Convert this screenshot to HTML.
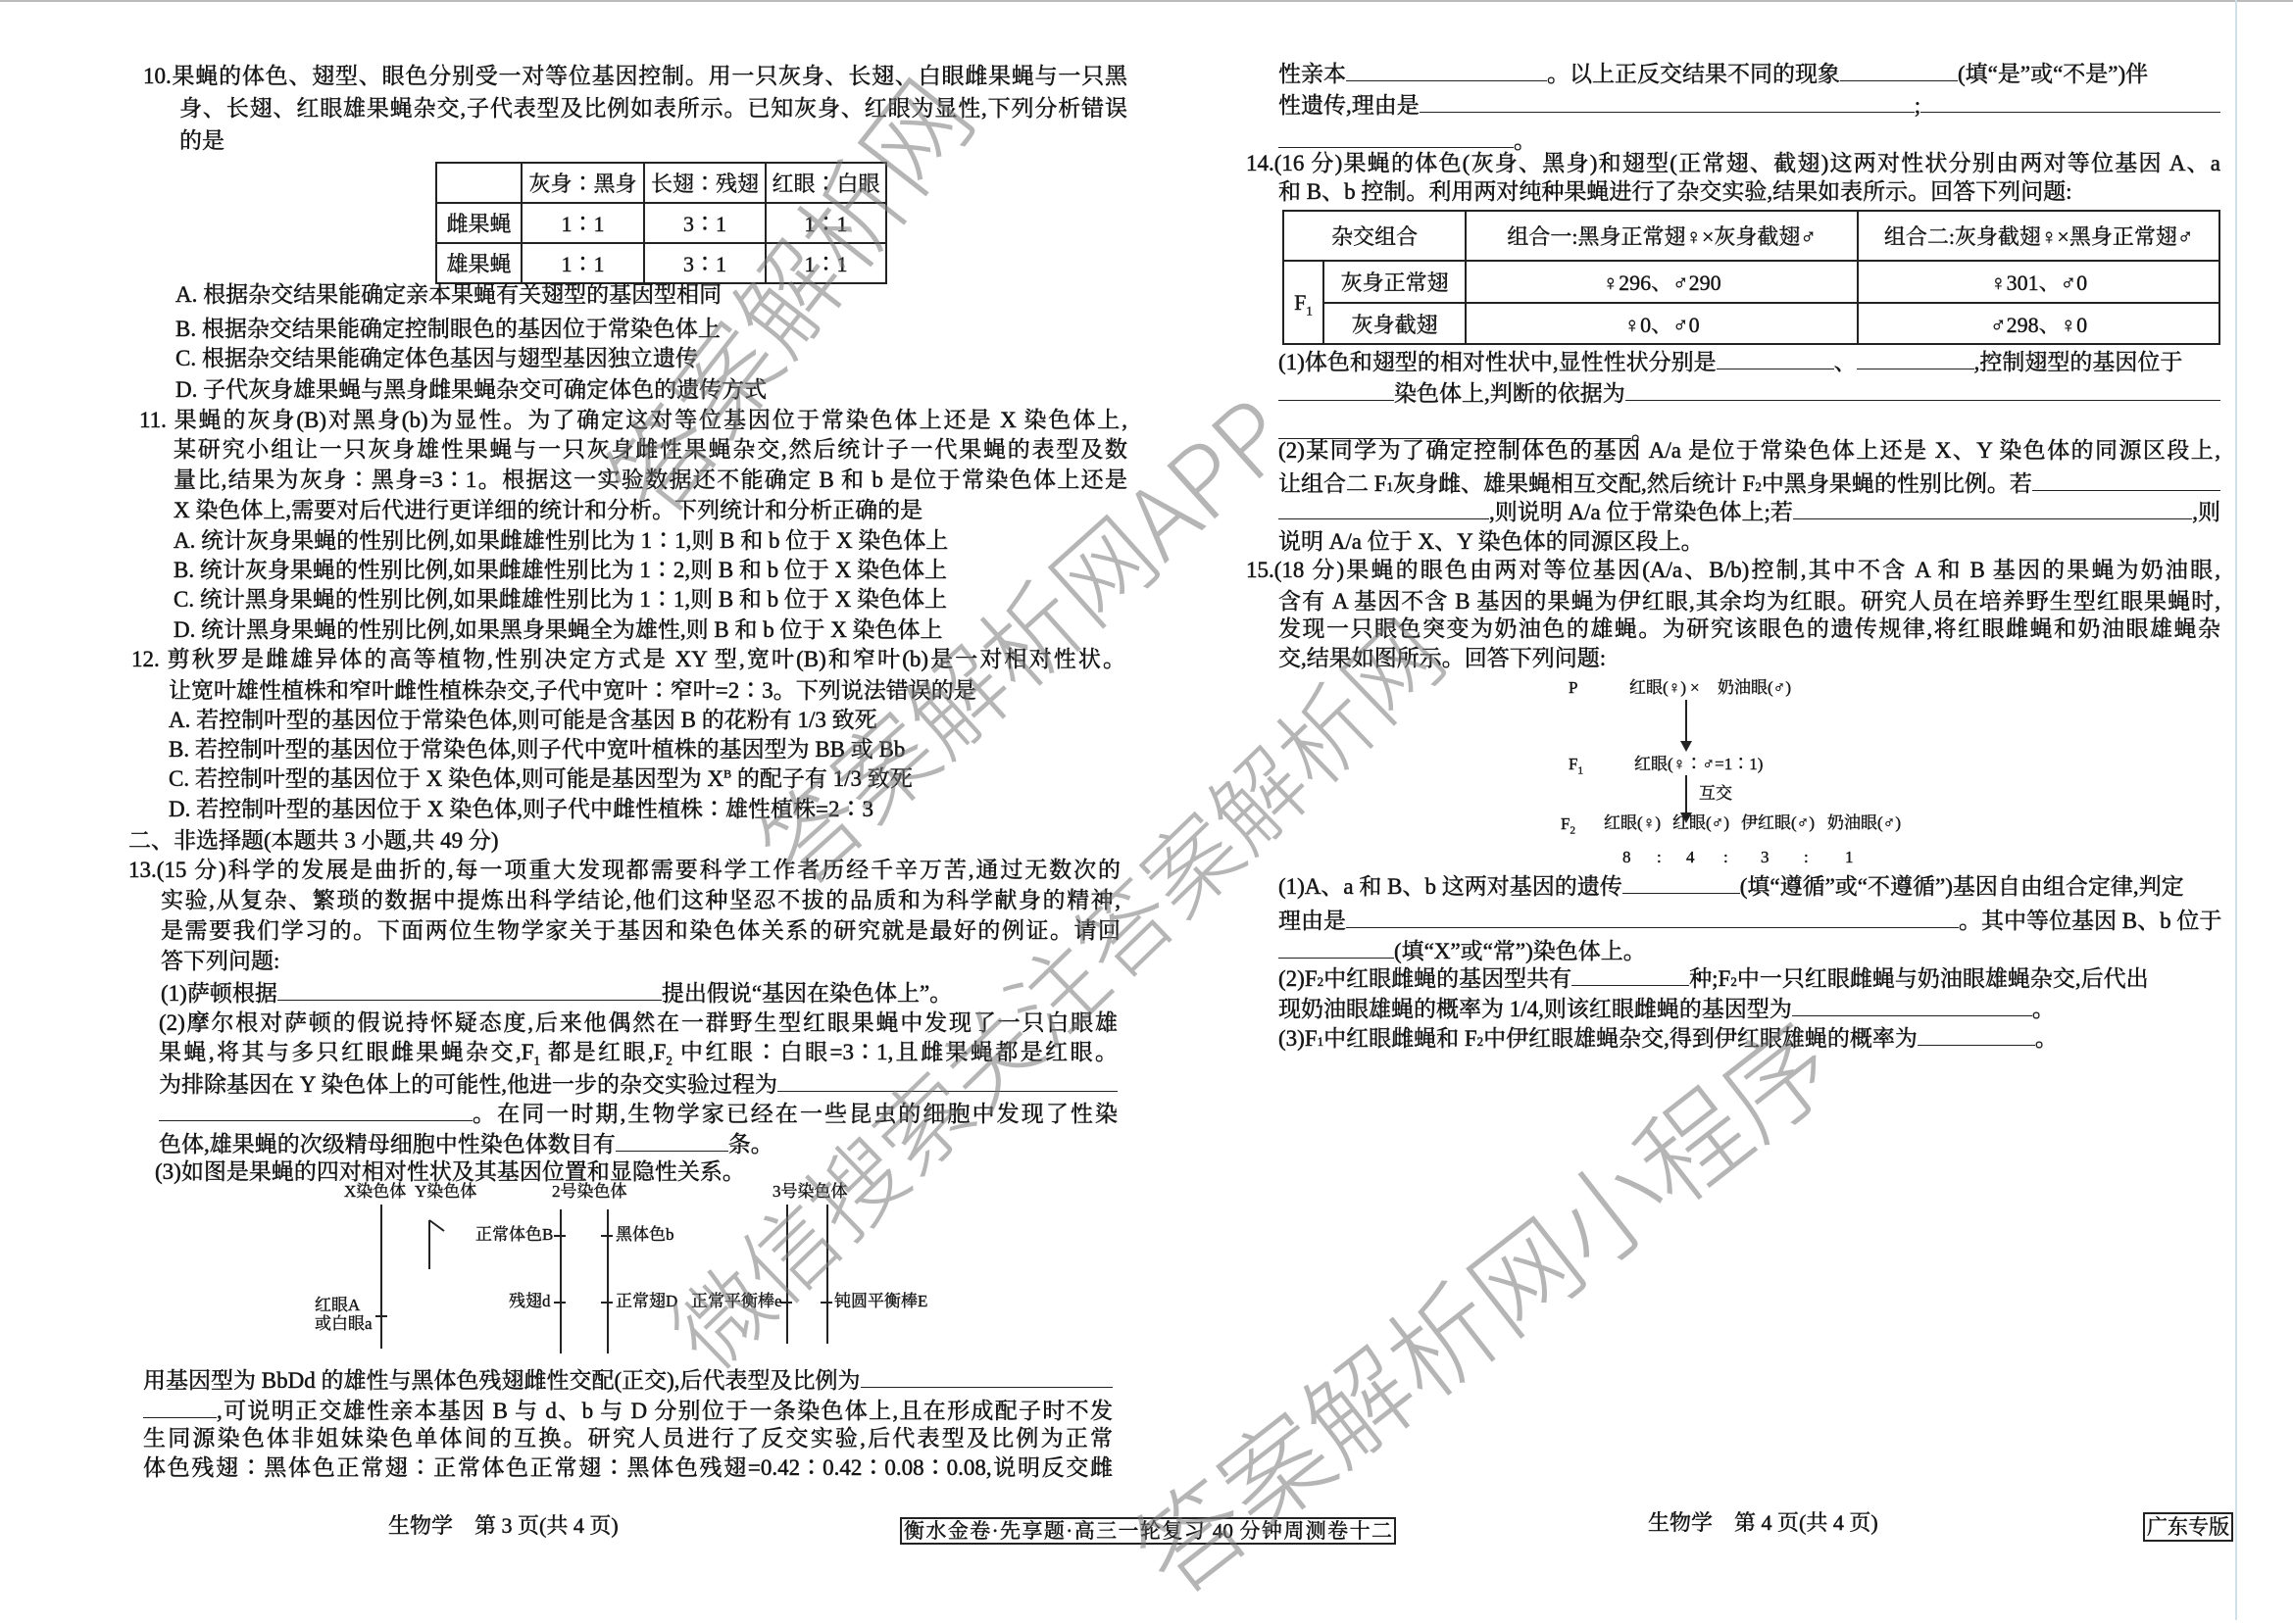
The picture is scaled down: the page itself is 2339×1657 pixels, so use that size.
<!DOCTYPE html>
<html><head><meta charset="utf-8">
<style>
html,body{margin:0;padding:0;background:#fff;}
body{width:2339px;height:1653px;position:relative;overflow:hidden;font-family:"Liberation Serif","Noto Serif CJK SC",serif;color:#161616;}
sup,sub{line-height:0;}
.l{position:absolute;height:32px;line-height:32px;font-size:23px;white-space:nowrap;-webkit-text-stroke:0.5px #161616;}
.j{text-align:justify;text-align-last:justify;white-space:normal;overflow:hidden;}
.f{display:flex;align-items:baseline;}
.b{display:inline-block;flex:none;height:24px;border-bottom:1.6px solid #222;vertical-align:baseline;}
.g{flex:1;display:inline-block;height:24px;border-bottom:1.6px solid #222;}
.s{font-size:17px;position:absolute;white-space:nowrap;line-height:20px;-webkit-text-stroke:0.4px #161616;}
.v{position:absolute;background:#222;width:2px;}
.h{position:absolute;background:#222;height:2px;}
table{position:absolute;border-collapse:collapse;font-size:22px;-webkit-text-stroke:0.4px #161616;}
td{border:2px solid #222;text-align:center;padding:0;}
.wm{position:absolute;font-family:"Noto Sans CJK SC","WenQuanYi Zen Hei",sans-serif;font-weight:300;color:rgba(120,120,120,0.55);white-space:nowrap;transform:translate(-50%,-50%);}
</style></head><body>
<div style="position:absolute;left:0;top:0;width:2339px;height:2px;background:#bbb"></div>
<div style="position:absolute;left:2280px;top:0;width:2px;height:1653px;background:#cfe0e6"></div>

<!-- LEFT COLUMN -->
<div class="l j" style="left:146px;top:62px;width:1004px">10.果蝇的体色、翅型、眼色分别受一对等位基因控制。用一只灰身、长翅、白眼雌果蝇与一只黑</div>
<div class="l j" style="left:183px;top:95px;width:967px">身、长翅、红眼雄果蝇杂交,子代表型及比例如表所示。已知灰身、红眼为显性,下列分析错误</div>
<div class="l" style="left:183px;top:128px">的是</div>
<table style="left:444px;top:165px;width:461px;height:123px">
<tr style="height:41px"><td style="width:85px"></td><td style="width:123px">灰身∶黑身</td><td style="width:122px">长翅∶残翅</td><td>红眼∶白眼</td></tr>
<tr style="height:41px"><td>雌果蝇</td><td>1∶1</td><td>3∶1</td><td>1∶1</td></tr>
<tr style="height:41px"><td>雄果蝇</td><td>1∶1</td><td>3∶1</td><td>1∶1</td></tr>
</table>
<div class="l" style="left:179px;top:285px">A. 根据杂交结果能确定亲本果蝇有关翅型的基因型相同</div>
<div class="l" style="left:179px;top:320px">B. 根据杂交结果能确定控制眼色的基因位于常染色体上</div>
<div class="l" style="left:179px;top:350px">C. 根据杂交结果能确定体色基因与翅型基因独立遗传</div>
<div class="l" style="left:179px;top:382px">D. 子代灰身雄果蝇与黑身雌果蝇杂交可确定体色的遗传方式</div>
<div class="l j" style="left:142px;top:413px;width:1008px">11. 果蝇的灰身(B)对黑身(b)为显性。为了确定这对等位基因位于常染色体上还是 X 染色体上,</div>
<div class="l j" style="left:177px;top:443px;width:973px">某研究小组让一只灰身雄性果蝇与一只灰身雌性果蝇杂交,然后统计子一代果蝇的表型及数</div>
<div class="l j" style="left:177px;top:474px;width:973px">量比,结果为灰身∶黑身=3∶1。根据这一实验数据还不能确定 B 和 b 是位于常染色体上还是</div>
<div class="l" style="left:177px;top:505px">X 染色体上,需要对后代进行更详细的统计和分析。下列统计和分析正确的是</div>
<div class="l" style="left:177px;top:536px">A. 统计灰身果蝇的性别比例,如果雌雄性别比为 1∶1,则 B 和 b 位于 X 染色体上</div>
<div class="l" style="left:177px;top:566px">B. 统计灰身果蝇的性别比例,如果雌雄性别比为 1∶2,则 B 和 b 位于 X 染色体上</div>
<div class="l" style="left:177px;top:596px">C. 统计黑身果蝇的性别比例,如果雌雄性别比为 1∶1,则 B 和 b 位于 X 染色体上</div>
<div class="l" style="left:177px;top:627px">D. 统计黑身果蝇的性别比例,如果黑身果蝇全为雄性,则 B 和 b 位于 X 染色体上</div>
<div class="l j" style="left:134px;top:657px;width:1014px">12. 剪秋罗是雌雄异体的高等植物,性别决定方式是 XY 型,宽叶(B)和窄叶(b)是一对相对性状。</div>
<div class="l" style="left:172px;top:689px">让宽叶雄性植株和窄叶雌性植株杂交,子代中宽叶∶窄叶=2∶3。下列说法错误的是</div>
<div class="l" style="left:172px;top:719px">A. 若控制叶型的基因位于常染色体,则可能是含基因 B 的花粉有 1/3 致死</div>
<div class="l" style="left:172px;top:749px">B. 若控制叶型的基因位于常染色体,则子代中宽叶植株的基因型为 BB 或 Bb</div>
<div class="l" style="left:172px;top:779px">C. 若控制叶型的基因位于 X 染色体,则可能是基因型为 X<sup style="font-size:12px">B</sup> 的配子有 1/3 致死</div>
<div class="l" style="left:172px;top:810px">D. 若控制叶型的基因位于 X 染色体,则子代中雌性植株∶雄性植株=2∶3</div>
<div class="l" style="left:131px;top:842px">二、非选择题(本题共 3 小题,共 49 分)</div>
<div class="l j" style="left:131px;top:872px;width:1012px">13.(15 分)科学的发展是曲折的,每一项重大发现都需要科学工作者历经千辛万苦,通过无数次的</div>
<div class="l j" style="left:164px;top:903px;width:979px">实验,从复杂、繁琐的数据中提炼出科学结论,他们这种坚忍不拔的品质和为科学献身的精神,</div>
<div class="l j" style="left:164px;top:934px;width:979px">是需要我们学习的。下面两位生物学家关于基因和染色体关系的研究就是最好的例证。请回</div>
<div class="l" style="left:164px;top:965px">答下列问题:</div>
<div class="l f" style="left:164px;top:996px">(1)萨顿根据<span class="b" style="width:392px"></span>提出假说“基因在染色体上”。</div>
<div class="l j" style="left:162px;top:1028px;width:978px">(2)摩尔根对萨顿的假说持怀疑态度,后来他偶然在一群野生型红眼果蝇中发现了一只白眼雄</div>
<div class="l j" style="left:162px;top:1058px;width:978px">果蝇,将其与多只红眼雌果蝇杂交,F<sub style="font-size:13px">1</sub> 都是红眼,F<sub style="font-size:13px">2</sub> 中红眼∶白眼=3∶1,且雌果蝇都是红眼。</div>
<div class="l f" style="left:162px;top:1089px;width:978px">为排除基因在 Y 染色体上的可能性,他进一步的杂交实验过程为<span class="g"></span></div>
<div class="l f" style="left:162px;top:1119px;width:978px"><span class="b" style="width:320px"></span><span style="flex:1;text-align:justify;text-align-last:justify">。在同一时期,生物学家已经在一些昆虫的细胞中发现了性染</span></div>
<div class="l f" style="left:162px;top:1150px">色体,雄果蝇的次级精母细胞中性染色体数目有<span class="b" style="width:115px"></span>条。</div>
<div class="l" style="left:158px;top:1180px">(3)如图是果蝇的四对相对性状及其基因位置和显隐性关系。</div>

<!-- chromosome diagram -->
<div class="s" style="left:351px;top:1206px">X染色体</div>
<div class="s" style="left:423px;top:1206px">Y染色体</div>
<div class="s" style="left:563px;top:1206px">2号染色体</div>
<div class="s" style="left:788px;top:1206px">3号染色体</div>
<div class="v" style="left:388px;top:1229px;height:147px"></div>
<div class="v" style="left:437px;top:1245px;height:50px"></div>
<svg style="position:absolute;left:430px;top:1240px" width="30" height="20"><line x1="8" y1="5" x2="23" y2="16" stroke="#222" stroke-width="2"/></svg>
<div class="v" style="left:571px;top:1234px;height:147px"></div>
<div class="v" style="left:619px;top:1234px;height:147px"></div>
<div class="v" style="left:802px;top:1229px;height:142px"></div>
<div class="v" style="left:843px;top:1229px;height:142px"></div>
<div class="h" style="left:383px;top:1342px;width:12px"></div>
<div class="h" style="left:565px;top:1260px;width:12px"></div>
<div class="h" style="left:613px;top:1260px;width:12px"></div>
<div class="h" style="left:565px;top:1328px;width:12px"></div>
<div class="h" style="left:613px;top:1328px;width:12px"></div>
<div class="h" style="left:796px;top:1328px;width:12px"></div>
<div class="h" style="left:837px;top:1328px;width:12px"></div>
<div class="s" style="left:321px;top:1322px">红眼A</div>
<div class="s" style="left:321px;top:1341px">或白眼a</div>
<div class="s" style="left:485px;top:1250px">正常体色B</div>
<div class="s" style="left:628px;top:1250px">黑体色b</div>
<div class="s" style="left:519px;top:1318px">残翅d</div>
<div class="s" style="left:628px;top:1318px">正常翅D</div>
<div class="s" style="left:705px;top:1318px">正常平衡棒e</div>
<div class="s" style="left:851px;top:1318px">钝圆平衡棒E</div>

<div class="l f" style="left:146px;top:1391px;width:989px">用基因型为 BbDd 的雄性与黑体色残翅雌性交配(正交),后代表型及比例为<span class="g"></span></div>
<div class="l f" style="left:146px;top:1422px;width:989px"><span class="b" style="width:75px"></span><span style="flex:1;text-align:justify;text-align-last:justify">,可说明正交雄性亲本基因 B 与 d、b 与 D 分别位于一条染色体上,且在形成配子时不发</span></div>
<div class="l j" style="left:146px;top:1452px;width:989px">生同源染色体非姐妹染色单体间的互换。研究人员进行了反交实验,后代表型及比例为正常</div>
<div class="l j" style="left:146px;top:1482px;width:989px">体色残翅∶黑体色正常翅∶正常体色正常翅∶黑体色残翅=0.42∶0.42∶0.08∶0.08,说明反交雌</div>

<div class="l" style="left:396px;top:1541px;font-size:22px">生物学　第 3 页(共 4 页)</div>
<div class="l" style="left:918px;top:1548px;height:24px;line-height:24px;font-size:21px;border:2px solid #222;padding:0 2px;width:498px;text-align:justify;text-align-last:justify;white-space:normal">衡水金卷·先享题·高三一轮复习 40 分钟周测卷十二</div>

<!-- RIGHT COLUMN -->
<div class="l f" style="left:1304px;top:58px;width:961px">性亲本<span class="b" style="width:205px"></span>。以上正反交结果不同的现象<span class="b" style="width:120px"></span>(填“是”或“不是”)伴</div>
<div class="l f" style="left:1304px;top:90px;width:961px">性遗传,理由是<span class="b" style="width:505px"></span>;<span class="g"></span></div>
<div class="l f" style="left:1304px;top:126px"><span class="b" style="width:240px"></span>。</div>
<div class="l j" style="left:1271px;top:151px;width:994px">14.(16 分)果蝇的体色(灰身、黑身)和翅型(正常翅、截翅)这两对性状分别由两对等位基因 A、a</div>
<div class="l" style="left:1304px;top:180px">和 B、b 控制。利用两对纯种果蝇进行了杂交实验,结果如表所示。回答下列问题:</div>
<table style="left:1308px;top:214px;width:957px;height:136px">
<tr style="height:51px"><td colspan="2" style="width:164px">杂交组合</td><td style="width:398px">组合一:黑身正常翅♀×灰身截翅♂</td><td>组合二:灰身截翅♀×黑身正常翅♂</td></tr>
<tr style="height:43px"><td rowspan="2" style="width:39px">F<sub style="font-size:13px">1</sub></td><td>灰身正常翅</td><td>♀296、♂290</td><td>♀301、♂0</td></tr>
<tr style="height:42px"><td>灰身截翅</td><td>♀0、♂0</td><td>♂298、♀0</td></tr>
</table>
<div class="l f" style="left:1304px;top:352px;width:961px">(1)体色和翅型的相对性状中,显性性状分别是<span class="b" style="width:120px"></span>、<span class="b" style="width:120px"></span>,控制翅型的基因位于</div>
<div class="l f" style="left:1304px;top:384px;width:961px"><span class="b" style="width:118px"></span>染色体上,判断的依据为<span class="g"></span></div>
<div class="l f" style="left:1304px;top:423px"><span class="b" style="width:360px"></span>。</div>
<div class="l j" style="left:1304px;top:444px;width:961px">(2)某同学为了确定控制体色的基因 A/a 是位于常染色体上还是 X、Y 染色体的同源区段上,</div>
<div class="l f" style="left:1304px;top:476px;width:961px">让组合二 F<sub style="font-size:13px">1</sub> 灰身雌、雄果蝇相互交配,然后统计 F<sub style="font-size:13px">2</sub> 中黑身果蝇的性别比例。若<span class="g"></span></div>
<div class="l f" style="left:1304px;top:505px;width:961px"><span class="b" style="width:215px"></span>,则说明 A/a 位于常染色体上;若<span class="g"></span>,则</div>
<div class="l" style="left:1304px;top:537px">说明 A/a 位于 X、Y 染色体的同源区段上。</div>
<div class="l j" style="left:1271px;top:566px;width:994px">15.(18 分)果蝇的眼色由两对等位基因(A/a、B/b)控制,其中不含 A 和 B 基因的果蝇为奶油眼,</div>
<div class="l j" style="left:1304px;top:598px;width:961px">含有 A 基因不含 B 基因的果蝇为伊红眼,其余均为红眼。研究人员在培养野生型红眼果蝇时,</div>
<div class="l j" style="left:1304px;top:626px;width:961px">发现一只眼色突变为奶油色的雄蝇。为研究该眼色的遗传规律,将红眼雌蝇和奶油眼雄蝇杂</div>
<div class="l" style="left:1304px;top:656px">交,结果如图所示。回答下列问题:</div>

<!-- cross diagram -->
<div class="s" style="left:1600px;top:692px">P</div>
<div class="s" style="left:1662px;top:692px">红眼(♀)</div>
<div class="s" style="left:1724px;top:692px">×</div>
<div class="s" style="left:1752px;top:692px">奶油眼(♂)</div>
<div class="v" style="left:1719px;top:714px;height:50px;width:1.5px"></div>
<svg style="position:absolute;left:1712px;top:756px" width="16" height="12"><polygon points="2,0 14,0 8,11" fill="#222"/></svg>
<div class="s" style="left:1600px;top:770px">F<sub style="font-size:11px">1</sub></div>
<div class="s" style="left:1667px;top:770px">红眼(♀∶♂=1∶1)</div>
<div class="v" style="left:1719px;top:791px;height:46px;width:1.5px"></div>
<svg style="position:absolute;left:1712px;top:829px" width="16" height="12"><polygon points="2,0 14,0 8,11" fill="#222"/></svg>
<div class="s" style="left:1733px;top:800px">互交</div>
<div class="s" style="left:1592px;top:831px">F<sub style="font-size:11px">2</sub></div>
<div class="s" style="left:1636px;top:830px">红眼(♀)</div>
<div class="s" style="left:1706px;top:830px">红眼(♂)</div>
<div class="s" style="left:1776px;top:830px">伊红眼(♂)</div>
<div class="s" style="left:1864px;top:830px">奶油眼(♂)</div>
<div class="s" style="left:1655px;top:865px">8</div>
<div class="s" style="left:1690px;top:865px">:</div>
<div class="s" style="left:1720px;top:865px">4</div>
<div class="s" style="left:1758px;top:865px">:</div>
<div class="s" style="left:1796px;top:865px">3</div>
<div class="s" style="left:1840px;top:865px">:</div>
<div class="s" style="left:1882px;top:865px">1</div>

<div class="l f" style="left:1304px;top:887px;width:961px">(1)A、a 和 B、b 这两对基因的遗传<span class="b" style="width:120px"></span>(填“遵循”或“不遵循”)基因自由组合定律,判定</div>
<div class="l f" style="left:1304px;top:922px;width:961px">理由是<span class="b" style="width:625px"></span>。其中等位基因 B、b 位于</div>
<div class="l f" style="left:1304px;top:953px"><span class="b" style="width:118px"></span>(填“X”或“常”)染色体上。</div>
<div class="l f" style="left:1304px;top:981px;width:961px">(2)F<sub style="font-size:13px">2</sub> 中红眼雌蝇的基因型共有<span class="b" style="width:120px"></span>种;F<sub style="font-size:13px">2</sub> 中一只红眼雌蝇与奶油眼雄蝇杂交,后代出</div>
<div class="l f" style="left:1304px;top:1012px">现奶油眼雄蝇的概率为 1/4,则该红眼雌蝇的基因型为<span class="b" style="width:245px"></span>。</div>
<div class="l f" style="left:1304px;top:1042px">(3)F<sub style="font-size:13px">1</sub> 中红眼雌蝇和 F<sub style="font-size:13px">2</sub> 中伊红眼雄蝇杂交,得到伊红眼雄蝇的概率为<span class="b" style="width:120px"></span>。</div>

<div class="l" style="left:1681px;top:1538px;font-size:22px">生物学　第 4 页(共 4 页)</div>
<div class="l" style="left:2186px;top:1543px;height:26px;line-height:26px;font-size:21px;border:2px solid #222;padding:0 2px">广东专版</div>

<!-- watermarks -->
<div class="wm" style="left:800px;top:300px;font-size:105px;transform:translate(-50%,-50%) rotate(-52deg)">答案解析网</div>
<div class="wm" style="left:1040px;top:650px;font-size:100px;transform:translate(-50%,-50%) rotate(-42deg)">答案解析网APP</div>
<div class="wm" style="left:1075px;top:1010px;font-size:95px;transform:translate(-50%,-50%) rotate(-44deg)">微信搜索关注答案解析网</div>
<div class="wm" style="left:1510px;top:1330px;font-size:108px;transform:translate(-50%,-50%) rotate(-38deg)">答案解析网小程序</div>
</body></html>
